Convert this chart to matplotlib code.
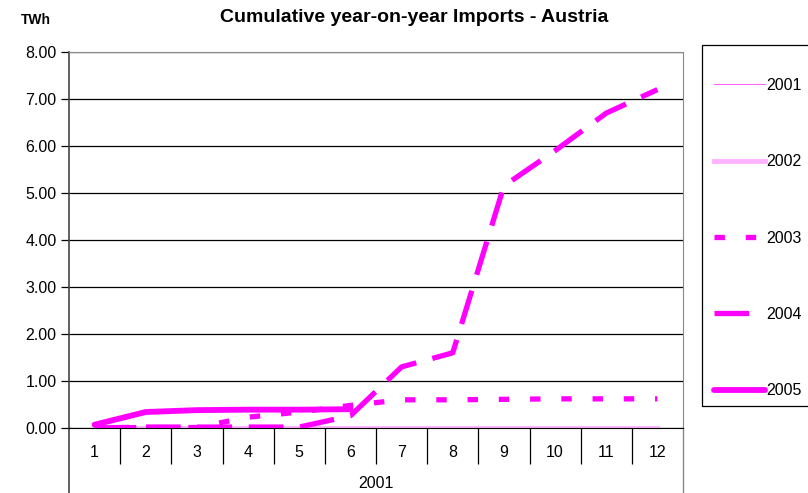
import matplotlib.pyplot as plt
from matplotlib.lines import Line2D
from matplotlib.patches import Rectangle
from matplotlib.ticker import FixedLocator, FormatStrFormatter

plt.rcParams['font.family'] = ['Liberation Sans', 'DejaVu Sans']
plt.rcParams['lines.scale_dashes'] = False

# data (TWh, cumulative)
months = ['1', '2', '3', '4', '5', '6', '7', '8', '9', '10', '11', '12']
year_label = '2001'
imp_2001 = [0.0, 0.0, 0.0, 0.0, 0.0, 0.0, 0.0, 0.0, 0.0, 0.0, 0.0, 0.0]
imp_2002 = [0.0, 0.0, 0.0, 0.0, 0.0, 0.0, 0.0, 0.0, 0.0, 0.0, 0.0, 0.0]
imp_2003 = [0.0, 0.01, 0.01, 0.23, 0.34, 0.48, 0.60, 0.60, 0.61, 0.62, 0.62, 0.62]
imp_2004 = [0.0, 0.02, 0.02, 0.02, 0.02, 0.26, 1.30, 1.60, 5.15, 5.90, 6.70, 7.20]
imp_2005 = [0.07, 0.34, 0.38, 0.39, 0.39, 0.40]

fig = plt.figure(figsize=(8.08, 4.93), dpi=100)
ax = fig.add_axes([69/808, 1-428/493, (683-69)/808, (428-52)/493])

x = list(range(len(months)))
ax.plot(x, imp_2001, color='#FF66FF', lw=0.8, label='2001', zorder=3)
ax.plot(x, imp_2002, color='#FFB3FF', lw=3.5, label='2002', zorder=2)
ax.plot(x, imp_2003, color='#FF00FF', lw=3.8, dashes=(7.5, 15), dash_capstyle='butt', label='2003', zorder=4)
ax.plot(x, imp_2004, color='#FF00FF', lw=3.8, dashes=(25, 12), dash_capstyle='butt', label='2004', zorder=4)
ax.plot(x[:len(imp_2005)], imp_2005, color='#FF00FF', lw=4.2, solid_capstyle='round', label='2005', zorder=5)

ax.set_ylim(0, 8)
ax.set_xlim(-0.5, len(months) - 0.5)
ax.yaxis.set_major_locator(FixedLocator(range(0, 9)))
ax.yaxis.set_major_formatter(FormatStrFormatter('%.2f'))
ax.yaxis.grid(True, color='black', lw=0.9)
ax.set_axisbelow(True)
ax.tick_params(axis='y', direction='out', length=6, width=0.9, labelsize=11.5, pad=3)

# category axis: dividers as major ticks, labels on minor ticks
ax.xaxis.set_major_locator(FixedLocator([i - 0.5 for i in range(1, len(months))]))
ax.xaxis.set_major_formatter(plt.NullFormatter())
ax.xaxis.set_minor_locator(FixedLocator(x))
ax.set_xticklabels(months, minor=True)
ax.tick_params(axis='x', which='major', direction='out', length=26, width=0.9, color='black')
ax.tick_params(axis='x', which='minor', length=0, labelsize=11.5, pad=12.5)

for side in ['top', 'right']:
    ax.spines[side].set_color('#888888')
ax.spines['left'].set_color('#444444')
ax.spines['left'].set_linewidth(1.2)
ax.spines['bottom'].set_color('black')

# outer category level
ext = -(493 - 428) / 376
ax.add_line(Line2D([0, 0], [0, ext], transform=ax.transAxes, color='#444444', lw=1.2, clip_on=False))
ax.add_line(Line2D([1, 1], [0, ext], transform=ax.transAxes, color='#888888', lw=1.0, clip_on=False))
ax.text(0.5, -(483 - 428) / 376, year_label, transform=ax.transAxes, ha='center', va='center', fontsize=11.5)

fig.text(414/808, 1-18/493, 'Cumulative year-on-year Imports - Austria', ha='center', va='center',
         fontsize=14, fontweight='bold')
fig.text(36/808, 1-20/493, 'TWh', ha='center', va='center', fontsize=10, fontweight='bold')

# legend box runs past the right edge of the picture
fig.patches.append(Rectangle((702/808, 1-406/493), 0.2, (406-45)/493, transform=fig.transFigure,
                             fill=False, edgecolor='black', lw=0.9))
leg = fig.legend(loc='upper left', bbox_to_anchor=(714/808, 1-78/493), borderaxespad=0, borderpad=0,
                 frameon=False, fontsize=11.5, handlelength=3.2, handletextpad=0.1, labelspacing=3.84)

fig.savefig('out.png', dpi=100)
